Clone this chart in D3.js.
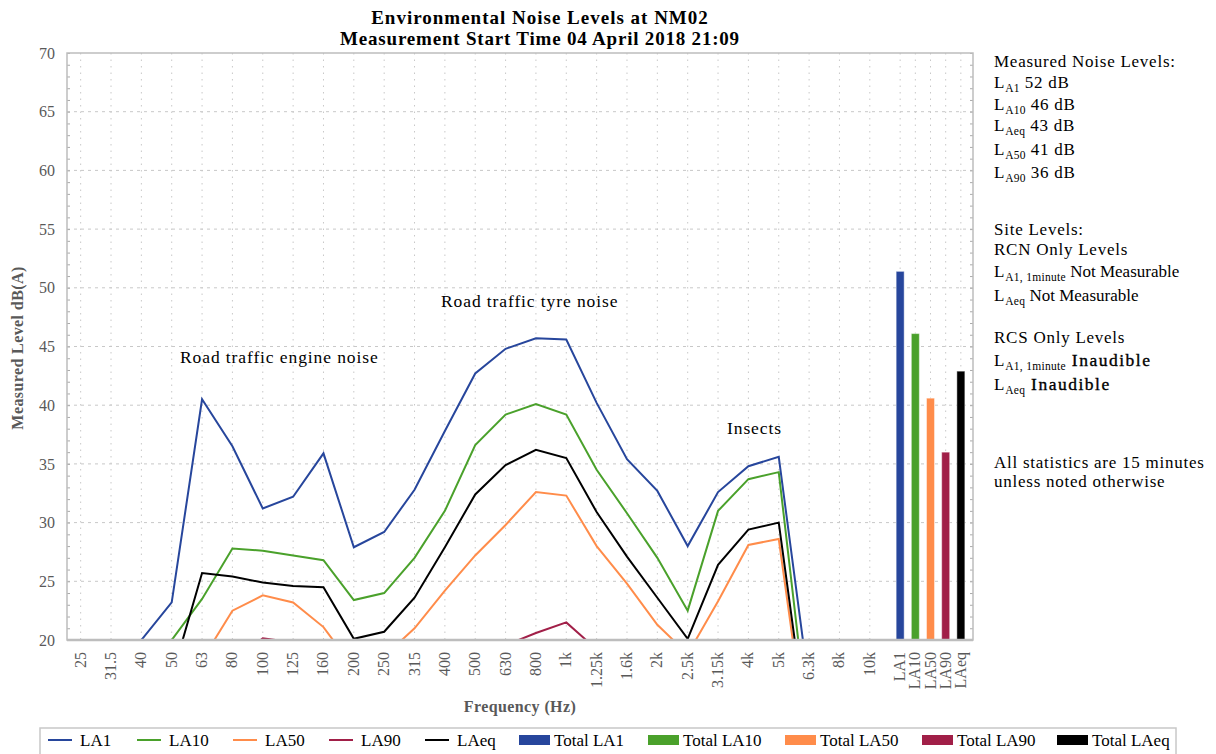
<!DOCTYPE html>
<meta charset="utf-8">
<style>
  body { margin: 0; background: #fff; }
  svg text { font-family: "Liberation Serif", "DejaVu Serif", serif; }
</style>
<body>
<div id="chart"></div>

<script src="https://d3js.org/d3.v7.min.js"></script>
<script>
// frequency bands and the overall statistics
var freqLabels = ["25","31.5","40","50","63","80","100","125","160","200","250","315","400","500",
                  "630","800","1k","1.25k","1.6k","2k","2.5k","3.15k","4k","5k","6.3k","8k","10k"];
var totalLabels = ["LA1","LA10","LA50","LA90","LAeq"];

// spectrum values, dB(A)
var la1  = [14,16,20.0,23.2,40.5,36.5,31.2,32.2,35.9,27.9,29.2,32.8,37.8,42.7,44.8,45.7,45.6,40.2,35.4,32.7,28.0,32.6,34.8,35.6,16,13,11];
var la10 = [12,13,15,20.0,23.5,27.8,27.6,27.2,26.8,23.4,24.0,27.0,31.0,36.6,39.2,40.1,39.2,34.5,30.8,27.0,22.5,31.0,33.7,34.3,12,10,9];
var la50 = [10,11,12,14,18.3,22.5,23.8,23.2,21.1,17.6,18.6,21.0,24.2,27.2,29.8,32.6,32.3,28.0,24.8,21.3,18.8,23.3,28.1,28.6,10,8,7];
var la90 = [8,9,10,12,15,18.0,20.15,19.8,18.5,15,15.5,17,18,18.8,19.55,20.6,21.5,19.2,18,16.5,15,17,18.5,19,8,6,5];
var laeq = [12,13,14,16.8,25.7,25.4,24.9,24.6,24.5,20.1,20.7,23.6,27.9,32.4,34.9,36.2,35.5,30.9,27.1,23.6,20.1,26.4,29.4,30.0,11,9,8];

// overall totals
var totals = [51.4,46.1,40.6,36.0,42.9];

var yTicks = [20,25,30,35,40,45,50,55,60,65,70];

var series = [
  {name: "LA1",  values: la1,  color: "#27469c"},
  {name: "LA10", values: la10, color: "#4aa12b"},
  {name: "LA50", values: la50, color: "#ff8c4a"},
  {name: "LA90", values: la90, color: "#a11f48"},
  {name: "LAeq", values: laeq, color: "#000000"}
];
var totalColors = ["#27469c","#4aa12b","#ff8c4a","#a11f48","#000000"];

var W = 1216, H = 754;
var plot = {left: 67, right: 973, top: 53, bottom: 640};

var svg = d3.select("#chart").append("svg")
    .attr("width", W)
    .attr("height", H);

// slot positions: frequency bands one slot apart, totals half a slot apart
function slot(i) { return i < 27 ? i : 27 + (i - 27) / 2; }
var allLabels = freqLabels.concat(totalLabels);

var x = d3.scaleLinear().domain([-0.45, 29.4]).range([plot.left, plot.right]);
var y = d3.scaleLinear().domain([20, 70]).range([plot.bottom, plot.top]);

// grid
var grid = svg.append("g");
grid.selectAll(".vg")
    .data(allLabels)
  .enter().append("line")
    .attr("x1", function(d, i) { return x(slot(i)); })
    .attr("x2", function(d, i) { return x(slot(i)); })
    .attr("y1", plot.top)
    .attr("y2", plot.bottom)
    .style("stroke", "#c8c8c8")
    .style("stroke-width", 1)
    .style("stroke-dasharray", "1.5,5");

grid.selectAll(".hg")
    .data(yTicks.slice(1, -1))
  .enter().append("line")
    .attr("x1", plot.left)
    .attr("x2", plot.right)
    .attr("y1", function(d) { return y(d); })
    .attr("y2", function(d) { return y(d); })
    .style("stroke", "#c8c8c8")
    .style("stroke-width", 1)
    .style("stroke-dasharray", "3,4");

// minor y ticks on both sides
svg.append("g")
    .attr("transform", "translate(" + plot.left + ",0)")
    .call(d3.axisRight(y).ticks(50).tickSize(3).tickFormat(""))
    .call(function(g) { g.select(".domain").remove(); g.selectAll("line").attr("stroke", "#aaa"); });
svg.append("g")
    .attr("transform", "translate(" + plot.right + ",0)")
    .call(d3.axisLeft(y).ticks(50).tickSize(3).tickFormat(""))
    .call(function(g) { g.select(".domain").remove(); g.selectAll("line").attr("stroke", "#aaa"); });

// y tick labels
svg.append("g")
    .attr("transform", "translate(" + plot.left + ",0)")
    .call(d3.axisLeft(y).tickValues(yTicks).tickSize(0).tickPadding(12))
    .call(function(g) {
      g.select(".domain").remove();
      g.selectAll("text")
        .style("font-family", "'Liberation Serif', serif")
        .style("font-size", "16px")
        .attr("fill", "#595959");
    });

// clip for lines
svg.append("clipPath").attr("id", "clip")
  .append("rect")
    .attr("x", plot.left).attr("y", plot.top)
    .attr("width", plot.right - plot.left).attr("height", plot.bottom - plot.top);

var line = d3.line()
    .x(function(d, i) { return x(i); })
    .y(function(d) { return y(d); });

svg.append("g").attr("clip-path", "url(#clip)")
  .selectAll("path")
    .data(series)
  .enter().append("path")
    .attr("d", function(d) { return line(d.values); })
    .style("fill", "none")
    .style("stroke", function(d) { return d.color; })
    .style("stroke-width", "2px")
    .style("stroke-linejoin", "miter");

// total bars
var bw = 8;
svg.selectAll(".bar")
    .data(totals)
  .enter().append("rect")
    .attr("class", "bar")
    .attr("x", function(d, i) { return x(slot(27 + i)) - bw / 2; })
    .attr("y", function(d) { return y(d); })
    .attr("width", bw)
    .attr("height", function(d) { return y(20) - y(d); })
    .style("fill", function(d, i) { return totalColors[i]; })
    .style("stroke", "rgba(255,255,255,0.45)")
    .style("stroke-width", 1);

// plot border
svg.append("rect")
    .attr("x", plot.left).attr("y", plot.top)
    .attr("width", plot.right - plot.left).attr("height", plot.bottom - plot.top)
    .style("fill", "none")
    .style("stroke", "#bdbdbd")
    .style("stroke-width", 1.5);
svg.append("line")
    .attr("x1", plot.left).attr("x2", plot.right)
    .attr("y1", plot.bottom).attr("y2", plot.bottom)
    .style("stroke", "#bdbdbd").style("stroke-width", 2.5);

// x tick labels, rotated
svg.selectAll(".xl")
    .data(allLabels)
  .enter().append("text")
    .attr("transform", function(d, i) {
      return "translate(" + (x(slot(i)) + 5) + "," + (plot.bottom + 12) + ") rotate(-90)";
    })
    .style("text-anchor", "end")
    .style("font-size", "16px")
    .attr("fill", "#595959")
    .text(function(d) { return d; });

// axis titles
svg.append("text")
    .attr("x", 520).attr("y", 712)
    .style("text-anchor", "middle")
    .style("font-size", "16px")
    .style("font-weight", "bold")
    .style("letter-spacing", "0.4px")
    .attr("fill", "#595959")
    .text("Frequency (Hz)");

svg.append("text")
    .attr("transform", "translate(23,348) rotate(-90)")
    .style("text-anchor", "middle")
    .style("font-size", "16px")
    .style("font-weight", "bold")
    .style("letter-spacing", "0.4px")
    .attr("fill", "#595959")
    .text("Measured Level dB(A)");

// title
svg.append("text")
    .attr("x", 540).attr("y", 24)
    .style("text-anchor", "middle")
    .style("font-size", "19px")
    .style("font-weight", "bold")
    .style("letter-spacing", "1px")
    .text("Environmental Noise Levels at NM02");
svg.append("text")
    .attr("x", 540).attr("y", 45)
    .style("text-anchor", "middle")
    .style("font-size", "19px")
    .style("font-weight", "bold")
    .style("letter-spacing", "0.8px")
    .text("Measurement Start Time 04 April 2018 21:09");

// annotations
var notes = [
  {t: "Road traffic engine noise", x: 180, y: 363},
  {t: "Road traffic tyre noise", x: 441, y: 307},
  {t: "Insects", x: 727, y: 434}
];
svg.selectAll(".note")
    .data(notes)
  .enter().append("text")
    .attr("x", function(d) { return d.x; })
    .attr("y", function(d) { return d.y; })
    .style("font-size", "17.5px")
    .style("letter-spacing", "0.9px")
    .text(function(d) { return d.t; });

// side panel: [text, kind] where kind is sub, tight or semi
var panel = [
  {y: 67, parts: [["Measured Noise Levels:"]]},
  {y: 88, parts: [["L"], ["A1", "sub"], [" 52 dB"]]},
  {y: 110, parts: [["L"], ["A10", "sub"], [" 46 dB"]]},
  {y: 131, parts: [["L"], ["Aeq", "sub"], [" 43 dB"]]},
  {y: 155, parts: [["L"], ["A50", "sub"], [" 41 dB"]]},
  {y: 178, parts: [["L"], ["A90", "sub"], [" 36 dB"]]},
  {y: 235, parts: [["Site Levels:"]]},
  {y: 255, parts: [["RCN Only Levels"]]},
  {y: 277, parts: [["L"], ["A1, 1minute", "sub"], [" Not Measurable", "tight"]]},
  {y: 301, parts: [["L"], ["Aeq", "sub"], [" Not Measurable", "tight"]]},
  {y: 343, parts: [["RCS Only Levels"]]},
  {y: 366, parts: [["L"], ["A1, 1minute", "sub"], [" Inaudible", "semi"]]},
  {y: 390, parts: [["L"], ["Aeq", "sub"], [" Inaudible", "semi"]]},
  {y: 468, parts: [["All statistics are 15 minutes"]]},
  {y: 487, parts: [["unless noted otherwise"]]}
];
panel.forEach(function(row) {
  var t = svg.append("text")
      .attr("x", 994).attr("y", row.y)
      .style("font-size", "17px")
      .style("letter-spacing", "0.75px");
  var shifted = false;
  row.parts.forEach(function(p) {
    var s = t.append("tspan").text(p[0]);
    if (p[1] === "sub") {
      s.attr("dy", 4).style("font-size", "11.5px").style("letter-spacing", "0.3px");
      shifted = true;
      return;
    }
    if (shifted) { s.attr("dy", -4); shifted = false; }
    if (p[1] === "tight") s.style("letter-spacing", "0px");
    if (p[1] === "semi") s.style("font-size", "17.5px").style("letter-spacing", "1.5px")
                          .style("stroke", "#000").style("stroke-width", 0.35);
  });
});

// legend
var legend = svg.append("g");
legend.append("rect")
    .attr("x", 40).attr("y", 728)
    .attr("width", 1136).attr("height", 40)
    .style("fill", "#fff")
    .style("stroke", "#c8c8c8")
    .style("stroke-width", 1.5);

var legendItems = [
  {t: "LA1",  c: "#27469c", type: "line", x: 48},
  {t: "LA10", c: "#4aa12b", type: "line", x: 137},
  {t: "LA50", c: "#ff8c4a", type: "line", x: 233},
  {t: "LA90", c: "#a11f48", type: "line", x: 329},
  {t: "LAeq", c: "#000000", type: "line", x: 425},
  {t: "Total LA1",  c: "#27469c", type: "rect", x: 519},
  {t: "Total LA10", c: "#4aa12b", type: "rect", x: 648},
  {t: "Total LA50", c: "#ff8c4a", type: "rect", x: 785},
  {t: "Total LA90", c: "#a11f48", type: "rect", x: 922},
  {t: "Total LAeq", c: "#000000", type: "rect", x: 1057}
];
legendItems.forEach(function(d) {
  if (d.type === "line") {
    legend.append("line")
        .attr("x1", d.x).attr("x2", d.x + 24)
        .attr("y1", 740).attr("y2", 740)
        .style("stroke", d.c).style("stroke-width", 2);
    legend.append("text")
        .attr("x", d.x + 32).attr("y", 746)
        .style("font-size", "17px")
        .text(d.t);
  } else {
    legend.append("rect")
        .attr("x", d.x).attr("y", 735)
        .attr("width", 31).attr("height", 10)
        .style("fill", d.c);
    legend.append("text")
        .attr("x", d.x + 35).attr("y", 746)
        .style("font-size", "17px")
        .text(d.t);
  }
});
</script>
</body>
